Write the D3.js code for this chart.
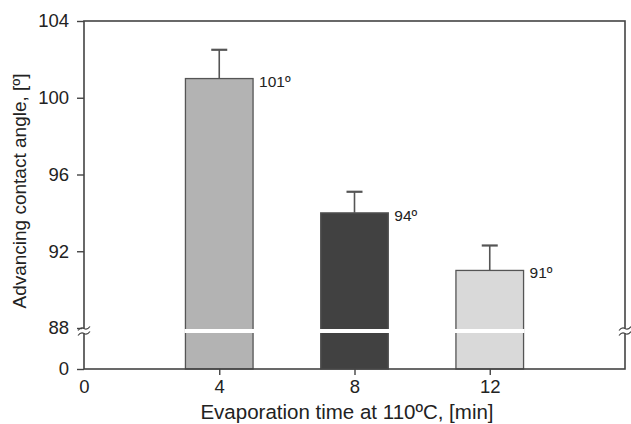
<!DOCTYPE html>
<html>
<head>
<meta charset="utf-8">
<script src="https://cdn.jsdelivr.net/npm/d3@7"></script>
<style>
  body { margin: 0; background: #fff; }
  text { font-family: "Liberation Sans", Arial, sans-serif; fill: #222; }
</style>
</head>
<body>
<script>
// data
const times = [4, 8, 12];
const angles = [101, 94, 91];
const errors = [1.5, 1.1, 1.3];
const fills = ['#b3b3b3', '#414141', '#d9d9d9'];
const labels = ['101º', '94º', '91º'];
const yTicks = [0, 88, 92, 96, 100, 104];
const xTicks = [0, 4, 8, 12];

const width = 631, height = 424;
const svg = d3.select('body').append('svg')
  .attr('width', width)
  .attr('height', height);

const x = d3.scaleLinear().domain([0, 16]).range([84, 625]);
// broken axis: 0..88 squeezed, 88..104 linear
const y = d3.scaleLinear().domain([0, 88, 104]).range([369, 328, 21]);
const breakY = 331;

// bars
const bars = svg.append('g');
bars.selectAll('rect')
  .data(times)
  .enter().append('rect')
    .attr('x', d => x(d - 1))
    .attr('width', d => x(d + 1) - x(d - 1))
    .attr('y', (d, i) => y(angles[i]))
    .attr('height', (d, i) => y(0) - y(angles[i]))
    .attr('fill', (d, i) => fills[i])
    .attr('stroke', '#555')
    .attr('stroke-width', 1.3);

// white gap across the bars at the break
bars.selectAll('.gap')
  .data(times)
  .enter().append('rect')
    .attr('class', 'gap')
    .attr('x', d => x(d - 1) - 1)
    .attr('width', d => x(d + 1) - x(d - 1) + 2)
    .attr('y', breakY - 2)
    .attr('height', 4)
    .attr('fill', '#fff');

// error bars (upper only)
const err = svg.append('g').attr('stroke', '#555').attr('stroke-width', 1.6);
err.selectAll('.v')
  .data(times)
  .enter().append('line')
    .attr('x1', d => x(d)).attr('x2', d => x(d))
    .attr('y1', (d, i) => y(angles[i]))
    .attr('y2', (d, i) => y(angles[i] + errors[i]));
err.selectAll('.cap')
  .data(times)
  .enter().append('line')
    .attr('x1', d => x(d) - 8).attr('x2', d => x(d) + 8)
    .attr('y1', (d, i) => y(angles[i] + errors[i]))
    .attr('y2', (d, i) => y(angles[i] + errors[i]))
    .attr('stroke-width', 2.2);

// value labels
svg.append('g').selectAll('text')
  .data(times)
  .enter().append('text')
    .attr('x', d => x(d + 1) + 6)
    .attr('y', (d, i) => y(angles[i]) + 8)
    .attr('font-size', 15.5)
    .text((d, i) => labels[i]);

// frame
const frame = svg.append('g').attr('stroke', '#444').attr('stroke-width', 1.6).attr('fill', 'none');
frame.append('rect')
  .attr('x', x(0)).attr('y', y(104))
  .attr('width', x(16) - x(0)).attr('height', y(0) - y(104));

// axes
const yAxis = svg.append('g')
  .attr('transform', `translate(${x(0)},0)`)
  .call(d3.axisLeft(y).tickValues(yTicks).tickSize(7).tickPadding(8));
const xAxis = svg.append('g')
  .attr('transform', `translate(0,${y(0)})`)
  .call(d3.axisBottom(x).tickValues(xTicks).tickSize(6).tickPadding(5));
[yAxis, xAxis].forEach(a => {
  a.select('.domain').remove();
  a.selectAll('line').attr('stroke', '#444').attr('stroke-width', 1.4);
  a.selectAll('text').attr('font-size', 18.5).attr('fill', '#222')
    .attr('font-family', '"Liberation Sans", Arial, sans-serif');
});
xAxis.select('.tick line').remove();

// axis break marks
const brk = svg.append('g');
[x(0), x(16)].forEach(bx => {
  brk.append('rect')
    .attr('x', bx - 2).attr('y', breakY - 2.5)
    .attr('width', 4).attr('height', 5)
    .attr('fill', '#fff');
  [-2.5, 2.5].forEach(dy => {
    brk.append('path')
      .attr('d', `M${bx - 6},${breakY + dy + 2} q3,-4 6,-2 q3,2 6,-2`)
      .attr('fill', 'none')
      .attr('stroke', '#444')
      .attr('stroke-width', 1.2);
  });
});

// titles
svg.append('text')
  .attr('x', 347)
  .attr('y', 419)
  .attr('text-anchor', 'middle')
  .attr('font-size', 20.5)
  .text('Evaporation time at 110ºC, [min]');

svg.append('text')
  .attr('transform', `translate(26,191) rotate(-90)`)
  .attr('text-anchor', 'middle')
  .attr('font-size', 19)
  .text('Advancing contact angle, [º]');
</script>
</body>
</html>
